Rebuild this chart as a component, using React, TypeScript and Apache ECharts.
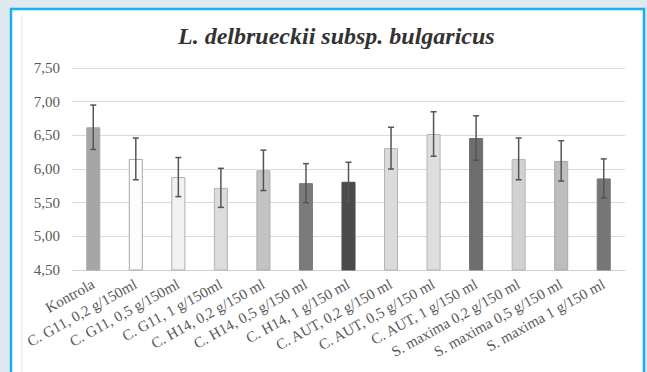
import React, { useEffect, useRef } from "react";
import * as echarts from "echarts";

const categories = [
  "Kontrola",
  "C. G11, 0,2 g/150ml",
  "C. G11, 0,5 g/150ml",
  "C. G11, 1 g/150ml",
  "C. H14, 0,2 g/150 ml",
  "C. H14, 0,5 g/150 ml",
  "C. H14, 1 g/150 ml",
  "C. AUT, 0,2 g/150 ml",
  "C. AUT, 0,5 g/150 ml",
  "C. AUT, 1 g/150 ml",
  "S. maxima 0,2 g/150 ml",
  "S. maxima 0,5 g/150 ml",
  "S. maxima 1 g/150 ml",
];

const means = [6.62, 6.15, 5.88, 5.72, 5.98, 5.79, 5.81, 6.31, 6.52, 6.46, 6.15, 6.12, 5.86];
const errors = [0.33, 0.31, 0.29, 0.29, 0.3, 0.29, 0.29, 0.31, 0.33, 0.33, 0.31, 0.3, 0.29];

const barFills = [
  "#a6a6a6", "#fcfcfc", "#f2f2f2", "#dcdcdc", "#c3c3c3", "#7b7b7b", "#4b4b4b",
  "#dbdbdb", "#dedede", "#6e6e6e", "#d1d1d1", "#bdbdbd", "#767676",
];
const barBorders = [
  "#a6a6a6", "#a8a8a8", "#b0b0b0", "#b4b4b4", "#ababab", "#7b7b7b", "#4b4b4b",
  "#b4b4b4", "#b4b4b4", "#6e6e6e", "#b4b4b4", "#a8a8a8", "#767676",
];

const titleText = "L. delbrueckii subsp. bulgaricus";
const serif = "'Liberation Serif', 'DejaVu Serif', serif";

export default function App() {
  const ref = useRef<HTMLDivElement>(null);

  useEffect(() => {
    if (!ref.current) return;
    const chart = echarts.init(ref.current, null, { renderer: "svg" });

    const errorData = means.map((m, i) => [i, m - errors[i], m + errors[i]]);

    chart.setOption({
      animation: false,
      backgroundColor: "#e0e9ef",
      graphic: [
        {
          type: "rect",
          z: -10,
          shape: { x: 11, y: 9, width: 633, height: 420 },
          style: { fill: "#ffffff", stroke: "#1ab0ee", lineWidth: 2.5 },
        },
        {
          type: "line",
          z: -9,
          shape: { x1: 22, y1: 15, x2: 22, y2: 380 },
          style: { stroke: "#e2e2e2", lineWidth: 1 },
        },
      ],
      title: {
        text: titleText,
        left: 173,
        top: 19,
        textStyle: {
          fontFamily: serif,
          fontStyle: "italic",
          fontWeight: "bold",
          fontSize: 24,
          color: "#333333",
        },
      },
      grid: { left: 72, right: 22, top: 68, bottom: 102 },
      xAxis: {
        type: "category",
        data: categories,
        axisLine: { lineStyle: { color: "#d0d0d0", width: 1 } },
        axisTick: { show: false },
        axisLabel: {
          interval: 0,
          rotate: 29,
          margin: 13,
          fontFamily: serif,
          fontSize: 15,
          color: "#595959",
        },
      },
      yAxis: {
        type: "value",
        min: 4.5,
        max: 7.5,
        interval: 0.5,
        axisLine: { show: false },
        axisTick: { show: false },
        splitLine: { lineStyle: { color: "#dadada", width: 1 } },
        axisLabel: {
          margin: 12,
          fontFamily: serif,
          fontSize: 15,
          color: "#595959",
          formatter: (v: number) => v.toFixed(2).replace(".", ","),
        },
      },
      series: [
        {
          type: "bar",
          barWidth: "33%",
          data: means.map((m, i) => ({
            value: m,
            itemStyle: { color: barFills[i], borderColor: barBorders[i], borderWidth: 1 },
          })),
        },
        {
          type: "custom",
          z: 5,
          data: errorData,
          renderItem: (params: any, api: any) => {
            const x = api.value(0);
            const lo = api.coord([x, api.value(1)]);
            const hi = api.coord([x, api.value(2)]);
            const cap = 3;
            const style = { stroke: "#555555", lineWidth: 1.5, fill: "none" };
            return {
              type: "group",
              children: [
                { type: "line", shape: { x1: hi[0], y1: hi[1], x2: lo[0], y2: lo[1] }, style },
                { type: "line", shape: { x1: hi[0] - cap, y1: hi[1], x2: hi[0] + cap, y2: hi[1] }, style },
                { type: "line", shape: { x1: lo[0] - cap, y1: lo[1], x2: lo[0] + cap, y2: lo[1] }, style },
              ],
            };
          },
        },
      ],
    });

    return () => chart.dispose();
  }, []);

  return (
    <div
      ref={ref}
      style={{ position: "fixed", left: 0, top: 0, width: 647, height: 372 }}
    />
  );
}
